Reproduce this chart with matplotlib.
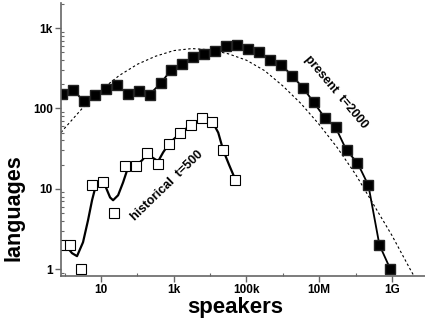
import matplotlib
matplotlib.use('Agg')
import matplotlib.pyplot as plt
from matplotlib.ticker import FixedLocator, FixedFormatter, LogLocator, NullFormatter

plt.rcParams['font.family'] = ['Liberation Sans', 'DejaVu Sans']
plt.rcParams['font.weight'] = 'bold'

# present day, t=2000 (filled squares)
present_x = [0.84, 1.69, 3.37, 6.75, 13.5, 27, 54, 108, 216, 432, 864, 1730, 3450,
             6900, 13800, 27600, 55200, 110000, 221000, 442000, 884000, 1.77e6,
             3.54e6, 7.07e6, 1.41e7, 2.83e7, 5.66e7, 1.13e8, 2.26e8, 4.53e8, 9.05e8]
present_y = [153, 172, 122, 145, 177, 193, 153, 163, 149, 205, 305, 362, 443, 482,
             525, 607, 624, 556, 511, 406, 352, 257, 182, 119, 77, 58, 30, 21, 11, 2, 1]

# historical, t=500 (open squares)
hist_x = [0.8, 1.4, 2.8, 5.6, 11.4, 22.8, 46, 92, 185, 372, 750, 1500, 3000, 6050,
          11400, 23000, 49000]
hist_y = [2, 2, 1, 11, 12, 5, 19, 19, 27.5, 20.5, 36.5, 49, 63, 77, 67, 30, 13]

# smoothed curve through the historical points
hist_curve_x = [0.79, 1.16, 1.59, 2.18, 3.19, 4.38, 5.65, 6.84, 9.38, 12.9, 17.7, 21.4,
                29.4, 40.3, 52, 67, 92, 134, 185, 254, 372, 510, 747, 1500, 3010,
                6050, 8500, 11400, 16700, 23000, 33600, 49000]
hist_curve_y = [2.04, 1.88, 1.58, 1.45, 2.16, 4.06, 7.2, 10.1, 11.7, 11.0, 7.8, 7.2,
                8.3, 12.0, 17.0, 19.0, 19.6, 22.6, 26.9, 24.6, 22.0, 28.4, 36.7, 49,
                63, 75, 77, 69, 50, 30, 19.6, 13.1]

# dashed model curve (log10 values)
model_logx = [-0.1, 0, 0.5, 1, 1.5, 2, 2.5, 3, 3.5, 4, 4.5, 5, 5.5, 6, 6.5, 7, 7.5,
              8, 8.5, 9, 9.5, 9.65]
model_logy = [1.70, 1.755, 2.01, 2.23, 2.41, 2.55, 2.65, 2.72, 2.745, 2.73, 2.68,
              2.60, 2.47, 2.28, 2.06, 1.80, 1.51, 1.18, 0.80, 0.42, 0.0, -0.12]

x_ticks = [10, 1e3, 1e5, 1e7, 1e9]
x_labels = ['10', '1k', '100k', '10M', '1G']
y_ticks = [1, 10, 100, 1000]
y_labels = ['1', '10', '100', '1k']

fig = plt.figure(figsize=(4.25, 3.24), dpi=100)
ax = fig.add_axes([0.1435, 0.148, 0.8565, 0.8426])

ax.plot([10 ** v for v in model_logx], [10 ** v for v in model_logy],
        color='black', lw=0.8, linestyle=(0, (2.2, 2.2)))
ax.plot(present_x, present_y, color='black', lw=1.3, marker='s', ms=7.5,
        mfc='black', mec='#222222')
ax.plot(hist_curve_x, hist_curve_y, color='black', lw=1.6)
ax.plot(hist_x, hist_y, linestyle='none', marker='s', ms=6.5, mfc='white',
        mec='black', mew=0.8)

ax.set_xscale('log')
ax.set_yscale('log')
ax.set_xlim(0.79, 10 ** 9.91)
ax.set_ylim(0.82, 2050)

ax.xaxis.set_major_locator(FixedLocator(x_ticks))
ax.xaxis.set_major_formatter(FixedFormatter(x_labels))
ax.xaxis.set_minor_locator(FixedLocator([1, 100, 1e4, 1e6, 1e8]))
ax.xaxis.set_minor_formatter(NullFormatter())
ax.yaxis.set_major_locator(FixedLocator(y_ticks))
ax.yaxis.set_major_formatter(FixedFormatter(y_labels))
ax.yaxis.set_minor_locator(LogLocator(base=10, subs=range(2, 10)))
ax.yaxis.set_minor_formatter(NullFormatter())

for side in ['top', 'right']:
    ax.spines[side].set_visible(False)
for side in ['left', 'bottom']:
    ax.spines[side].set_color('#666666')
    ax.spines[side].set_linewidth(1.2)

ax.tick_params(which='major', direction='out', length=4, width=1, color='#666666',
               labelsize=8.5, pad=2)
ax.tick_params(which='minor', direction='in', length=2.5, width=0.8, color='#666666')

ax.set_xlabel('speakers', fontsize=16, fontweight='bold', labelpad=0)
ax.set_ylabel('languages', fontsize=15.5, fontweight='bold')
ax.yaxis.set_label_coords(-0.1, 0.25)
ax.xaxis.set_label_coords(0.48, -0.075)

ax.text(10 ** 7.45, 10 ** 2.2, 'present  t=2000', rotation=-50, ha='center',
        va='center', fontsize=9, fontweight='bold')
ax.text(10 ** 2.82, 10 ** 1.04, 'historical  t=500', rotation=44, ha='center',
        va='center', fontsize=9, fontweight='bold')

fig.savefig('out.png', dpi=100)
